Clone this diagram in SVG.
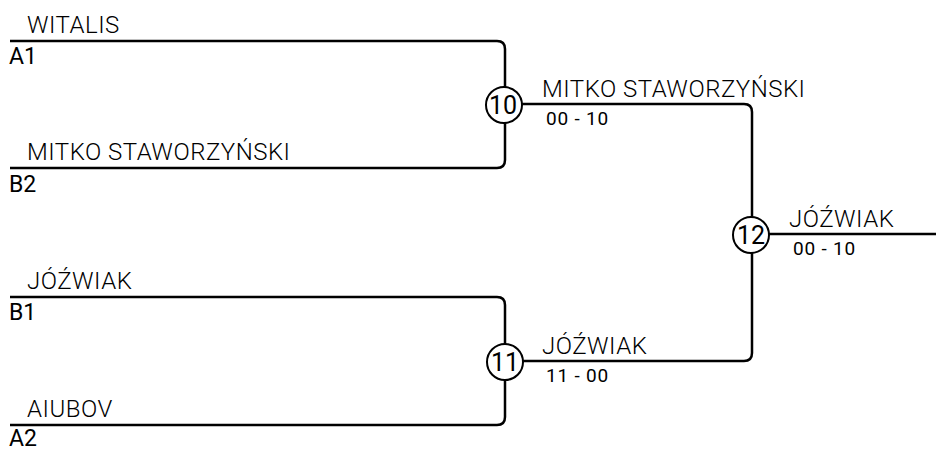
<svg xmlns="http://www.w3.org/2000/svg" width="936" height="450" viewBox="0 0 936 450">
<style>
.ln{fill:none;stroke:#000;stroke-width:2.5;stroke-linejoin:round}
.name{font-family:Roboto,"Liberation Sans",sans-serif;font-weight:300;font-size:24px;fill:#000;letter-spacing:0.5px}
.seed{font-family:Roboto,"Liberation Sans",sans-serif;font-weight:400;font-size:23px;fill:#000}
.score{font-family:Roboto,"Liberation Sans",sans-serif;font-weight:400;font-size:19px;fill:#000;letter-spacing:0.8px}
.num{font-family:Roboto,"Liberation Sans",sans-serif;font-weight:400;font-size:25px;fill:#000;text-anchor:middle}
.circ{fill:#fff;stroke:#000;stroke-width:2}
</style>
<rect width="936" height="450" fill="#fff"/>
<g id="connectors">
<path class="ln" d="M10 41 H497 Q505 41 505 49 V160 Q505 168 497 168 H10"/>
<path class="ln" d="M10 297 H497 Q505 297 505 305 V417 Q505 425 497 425 H10"/>
<path class="ln" d="M505 104 H744 Q752 104 752 112 V353 Q752 361 744 361 H505"/>
<path class="ln" d="M752 234 H936"/>
</g>
<g id="slot-A1"><text class="name" x="27" y="33">WITALIS</text><text class="seed" x="9" y="64">A1</text></g>
<g id="slot-B2"><text class="name" x="27" y="160">MITKO STAWORZYŃSKI</text><text class="seed" x="9" y="192">B2</text></g>
<g id="slot-B1"><text class="name" x="27" y="289">JÓŹWIAK</text><text class="seed" x="9" y="320">B1</text></g>
<g id="slot-A2"><text class="name" x="27" y="417">AIUBOV</text><text class="seed" x="9" y="446">A2</text></g>
<g id="match-10"><circle class="circ" cx="504" cy="105" r="18"/><text class="num" x="503" y="114">10</text><text class="name" x="542" y="97">MITKO STAWORZYŃSKI</text><text class="score" x="546" y="125">00 - 10</text></g>
<g id="match-11"><circle class="circ" cx="505" cy="362" r="18"/><text class="num" x="505" y="371">11</text><text class="name" x="542" y="354">JÓŹWIAK</text><text class="score" x="546" y="382">11 - 00</text></g>
<g id="match-12"><circle class="circ" cx="751" cy="235" r="18"/><text class="num" x="751" y="244">12</text><text class="name" x="789" y="227">JÓŹWIAK</text><text class="score" x="793" y="255">00 - 10</text></g>
</svg>
